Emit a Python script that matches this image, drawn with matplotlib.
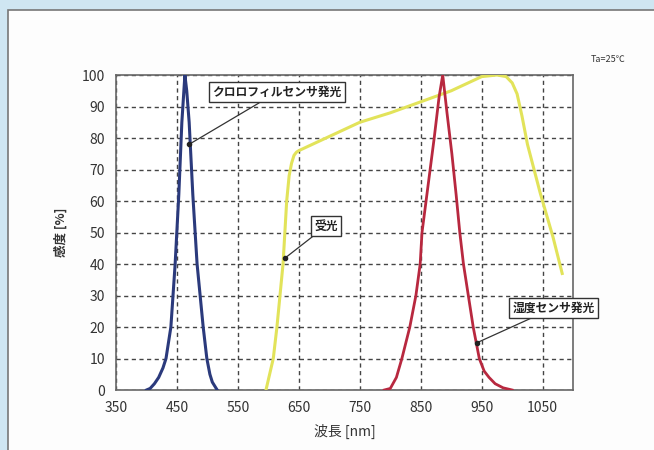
import matplotlib
matplotlib.use("Agg")
import matplotlib.pyplot as plt
from matplotlib.patches import Rectangle

plt.rcParams["font.family"] = ["Noto Sans CJK JP", "DejaVu Sans"]

# chlorophyll sensor LED (blue)
blue_nm = [400, 406, 413, 420, 427, 432, 440, 447, 453, 458, 463, 466, 470, 476, 483, 489, 493, 499, 504, 508, 516]
blue_val = [0, 0.5, 2, 4, 7, 10, 20, 40, 62, 85, 100, 95, 85, 62, 40, 28, 20, 10, 5, 2.5, 0]

# moisture sensor LED (red)
red_nm = [790, 800, 810, 819, 832, 842, 849, 852, 862, 872, 880, 886, 893, 901, 908, 914, 920, 928, 936, 946, 954, 962, 972, 985, 1000]
red_val = [0, 0.5, 4, 10, 20, 30, 40, 50, 65, 80, 93, 100, 88, 75, 62, 50, 40, 30, 20, 10, 6, 4, 2, 0.7, 0]

# receiver sensitivity (yellow)
rx_nm = [596, 602, 608, 614, 619, 624, 627, 630, 634, 638, 642, 646, 650, 700, 750, 800, 850, 900, 950, 975, 990, 1000, 1008, 1016, 1025, 1046, 1067, 1082]
rx_val = [0, 5, 10, 20, 30, 40, 50, 60, 68, 72, 74.5, 75.5, 76, 80.5, 85, 88, 91.5, 95, 99.5, 100, 99.5, 97.5, 94, 87, 78, 62.5, 48.5, 37]

x_ticks = [350, 450, 550, 650, 750, 850, 950, 1050]
y_ticks = list(range(0, 101, 10))

fig = plt.figure(figsize=(6.54, 4.5), dpi=100)
fig.patch.set_facecolor("#cfe6f2")
fig.patches.append(Rectangle((0.012, -0.05), 1.0, 1.028, transform=fig.transFigure,
                             facecolor="#fdfdfd", edgecolor="#777777", linewidth=1.2,
                             zorder=-5))

ax = fig.add_axes([0.1774, 0.1333, 0.699, 0.70])
ax.set_facecolor("white")

ax.plot(rx_nm, rx_val, color="#e2e35a", linewidth=2.2, zorder=3)
ax.plot(blue_nm, blue_val, color="#2b3a7c", linewidth=2.2, zorder=4)
ax.plot(red_nm, red_val, color="#b8283f", linewidth=2.0, zorder=4)

ax.set_xlim(350, 1100)
ax.set_ylim(0, 100)
ax.set_xticks(x_ticks)
ax.set_yticks(y_ticks)
ax.tick_params(length=0, labelsize=10, colors="#333333", pad=8)
ax.grid(True, color="#444444", linestyle=(0, (3, 2.5)), linewidth=1.0)
for s in ax.spines.values():
    s.set_color("#666666")
    s.set_linewidth(1.2)

ax.set_xlabel("波長 [nm]", fontsize=10, color="#333333", labelpad=6)
ax.set_ylabel("感度 [%]", fontsize=9, color="#333333", labelpad=10, fontweight="bold")

box = dict(boxstyle="square,pad=0.3", facecolor="white", edgecolor="#333333", linewidth=1.0)
arrow = dict(arrowstyle="-", color="#333333", linewidth=0.9, shrinkA=0, shrinkB=0)
notes = [
    ("クロロフィルセンサ発光", (470, 78), (508, 94.5)),
    ("受光", (628, 42), (675, 52)),
    ("湿度センサ発光", (942, 15), (1000, 26)),
]
for label, pt, txt in notes:
    ax.annotate(label, xy=pt, xytext=txt, fontsize=8.5, fontweight="bold", color="#222222",
                bbox=box, arrowprops=arrow, ha="left", va="center", zorder=6)
    ax.plot([pt[0]], [pt[1]], "o", color="#222222", markersize=3, zorder=7)

fig.text(0.903, 0.868, "Ta=25℃", fontsize=6.5, color="#333333", ha="left", va="center")

fig.savefig("out.png", dpi=100, facecolor=fig.get_facecolor())
